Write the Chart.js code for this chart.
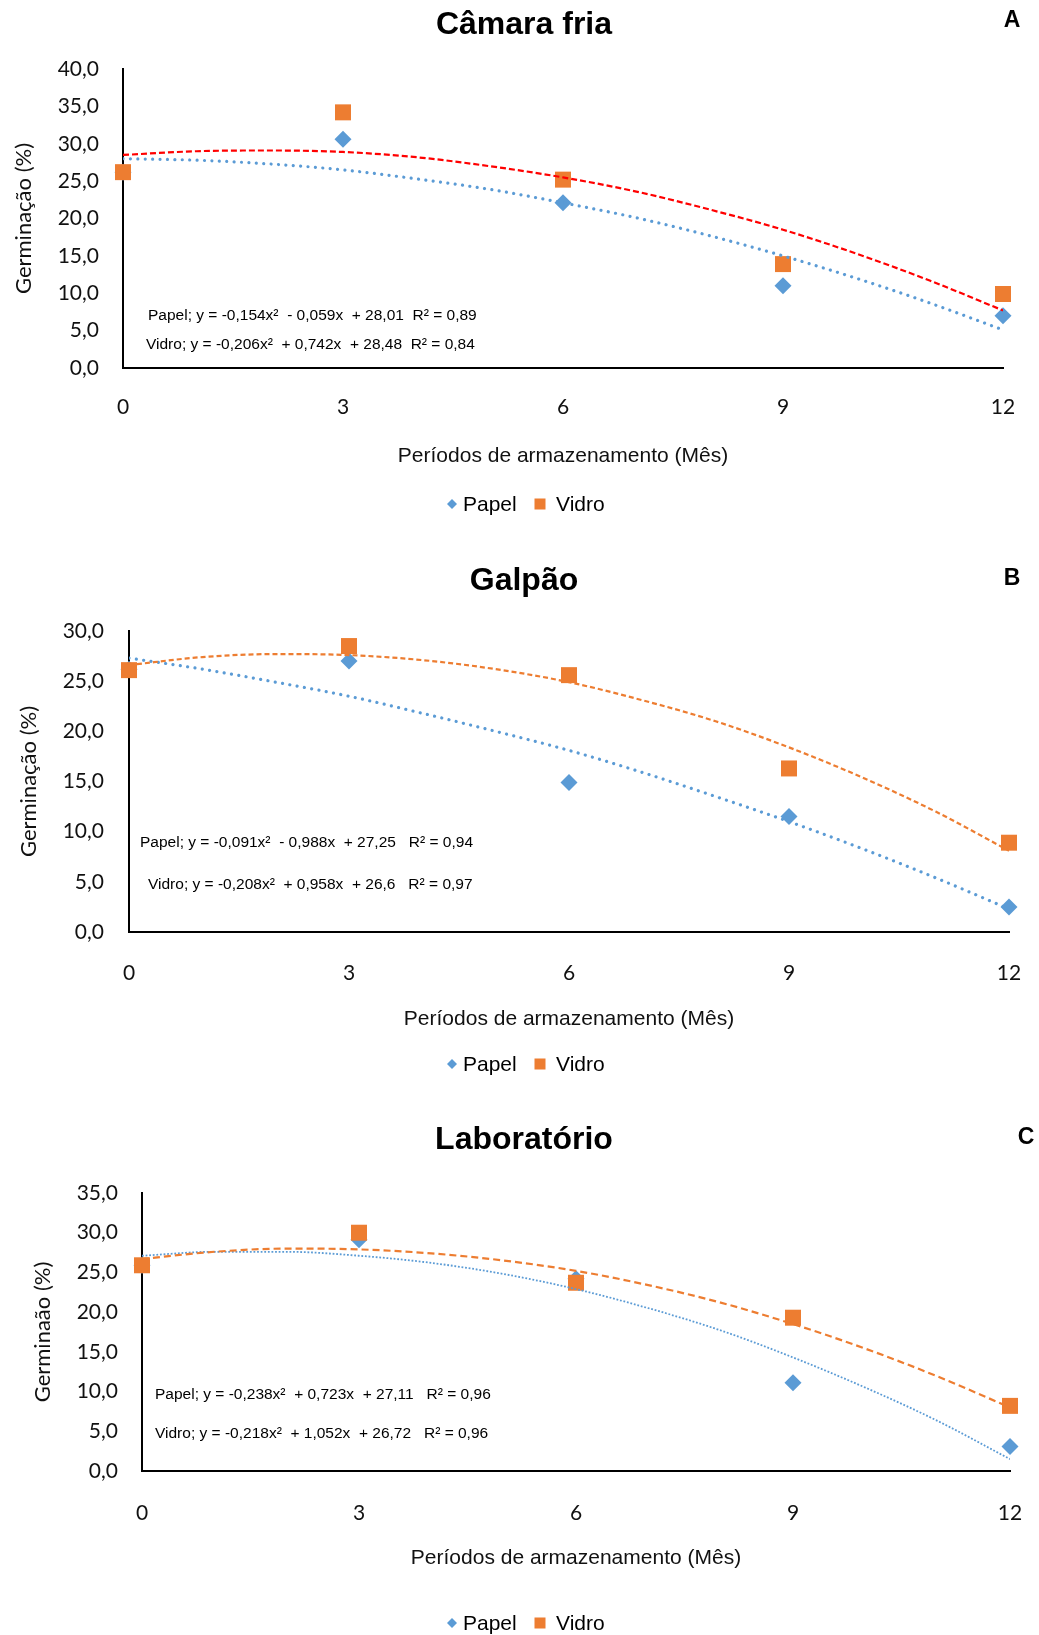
<!DOCTYPE html>
<html>
<head>
<meta charset="utf-8">
<script src="https://cdn.jsdelivr.net/npm/chart.js@4.4.0/dist/chart.umd.min.js"></script>
<style>
  html, body { margin: 0; padding: 0; background: #fff; }
  #wrap { position: relative; width: 1039px; height: 1635px; }
  .box { position: absolute; left: 0; width: 1039px; }
</style>
</head>
<body>
<div id="wrap">
  <div class="box" style="top:0px;height:540px"><canvas id="chartA" width="1039" height="540"></canvas></div>
  <div class="box" style="top:540px;height:555px"><canvas id="chartB" width="1039" height="555"></canvas></div>
  <div class="box" style="top:1095px;height:540px"><canvas id="chartC" width="1039" height="540"></canvas></div>
</div>
<script>
// Meses avaliados e eixo x
const months = [0, 3, 6, 9, 12];
const trendMonths = [0, 1, 2, 3, 4, 5, 6, 7, 8, 9, 10, 11, 12];

// Câmara fria
const camaraPapel = [26.2, 30.6, 22.1, 11.0, 7.0];
const camaraVidro = [26.2, 34.2, 25.2, 13.9, 9.9];
const camaraPapelTrend = [28.0, 27.8, 27.3, 26.5, 25.3, 23.9, 22.1, 20.1, 17.7, 15.0, 12.0, 8.7, 5.1];
const camaraVidroTrend = [28.5, 29.0, 29.1, 28.9, 28.2, 27.0, 25.5, 23.6, 21.2, 18.5, 15.3, 11.7, 7.7];
const camaraEq = ['Papel; y = -0,154x²  - 0,059x  + 28,01  R² = 0,89',
                  'Vidro; y = -0,206x²  + 0,742x  + 28,48  R² = 0,84'];

// Galpão
const galpaoPapel = [26.2, 27.0, 14.9, 11.5, 2.5];
const galpaoVidro = [26.1, 28.5, 25.6, 16.3, 8.9];
const galpaoPapelTrend = [27.3, 26.2, 24.9, 23.5, 21.8, 20.0, 18.1, 15.9, 13.5, 11.0, 8.3, 5.4, 2.3];
const galpaoVidroTrend = [26.6, 27.4, 27.7, 27.6, 27.1, 26.2, 24.9, 23.1, 21.0, 18.4, 15.4, 12.0, 8.1];
const galpaoEq = ['Papel; y = -0,091x²  - 0,988x  + 27,25   R² = 0,94',
                  'Vidro; y = -0,208x²  + 0,958x  + 26,6   R² = 0,97'];

// Laboratório
const labPapel = [25.9, 29.1, 24.2, 11.1, 3.1];
const labVidro = [25.9, 30.0, 23.7, 19.3, 8.2];
const labPapelTrend = [27.1, 27.6, 27.6, 27.1, 26.2, 24.8, 22.9, 20.5, 17.7, 14.3, 10.5, 6.3, 1.5];
const labVidroTrend = [26.7, 27.6, 28.0, 27.9, 27.4, 26.5, 25.2, 23.4, 21.2, 18.5, 15.4, 11.9, 8.0];
const labEq = ['Papel; y = -0,238x²  + 0,723x  + 27,11   R² = 0,96',
               'Vidro; y = -0,218x²  + 1,052x  + 26,72   R² = 0,96'];

const BLUE = '#5B9BD5';
const ORANGE = '#ED7D31';
const RED = '#FF0000';
const ARIAL = '"Liberation Sans", Arial, sans-serif';
const TICKFONT = 'Lato, "Noto Sans", sans-serif';

function pts(xs, ys) {
    return xs.map((x, i) => ({ x: x, y: ys[i] }));
}

const panels = [
    {
        id: 'chartA', h: 540, title: 'Câmara fria', letter: 'A', yMax: 40, yTitle: 'Germinação (%)',
        papel: camaraPapel, vidro: camaraVidro, papelTrend: camaraPapelTrend, vidroTrend: camaraVidroTrend,
        eq: camaraEq, eqPos: [[148, 316], [146, 345]],
        vidroTrendColor: RED, vidroDash: [6, 3], papelThin: false,
        left: 123, right: 1003, top: 69, bottom: 368, tickGap: 39, titleGap: 88,
        yTickRight: 99, yTitleX: 23, titleY: 25, letterX: 1012, letterY: 21, legendY: 504
    },
    {
        id: 'chartB', h: 555, title: 'Galpão', letter: 'B', yMax: 30, yTitle: 'Germinação (%)',
        papel: galpaoPapel, vidro: galpaoVidro, papelTrend: galpaoPapelTrend, vidroTrend: galpaoVidroTrend,
        eq: galpaoEq, eqPos: [[140, 303], [148, 345]],
        vidroTrendColor: ORANGE, vidroDash: [5, 3], papelThin: false,
        left: 129, right: 1009, top: 91, bottom: 392, tickGap: 41, titleGap: 87,
        yTickRight: 104, yTitleX: 28, titleY: 41, letterX: 1012, letterY: 39, legendY: 524
    },
    {
        id: 'chartC', h: 540, title: 'Laboratório', letter: 'C', yMax: 35, yTitle: 'Germinaão (%)',
        papel: labPapel, vidro: labVidro, papelTrend: labPapelTrend, vidroTrend: labVidroTrend,
        eq: labEq, eqPos: [[155, 300], [155, 339]],
        vidroTrendColor: ORANGE, vidroDash: [7, 4], papelThin: true,
        left: 142, right: 1010, top: 98, bottom: 376, tickGap: 42, titleGap: 87,
        yTickRight: 118, yTitleX: 42, titleY: 45, letterX: 1026, letterY: 43, legendY: 528
    }
];

// titulo, letra, equacoes e legenda
function makeDecor(p) {
    return {
        id: 'decor',
        afterDraw(chart) {
            const ctx = chart.ctx;
            ctx.save();
            ctx.fillStyle = '#000';
            ctx.textBaseline = 'middle';
            ctx.textAlign = 'center';
            ctx.font = 'bold 32px ' + ARIAL;
            ctx.fillText(p.title, 524, p.titleY);
            ctx.font = 'bold 23px ' + ARIAL;
            ctx.fillText(p.letter, p.letterX, p.letterY);

            ctx.textAlign = 'left';
            ctx.font = '15.5px ' + ARIAL;
            p.eq.forEach((t, i) => ctx.fillText(t, p.eqPos[i][0], p.eqPos[i][1]));

            // legenda
            const y = p.legendY;
            ctx.fillStyle = BLUE;
            ctx.beginPath();
            ctx.moveTo(452 - 5, y);
            ctx.lineTo(452, y - 5);
            ctx.lineTo(452 + 5, y);
            ctx.lineTo(452, y + 5);
            ctx.closePath();
            ctx.fill();
            ctx.fillStyle = ORANGE;
            ctx.fillRect(540 - 5.5, y - 5.5, 11, 11);
            ctx.fillStyle = '#000';
            ctx.font = '21px ' + ARIAL;
            ctx.fillText('Papel', 463, y + 1);
            ctx.fillText('Vidro', 556, y + 1);
            ctx.restore();
        }
    };
}

panels.forEach(p => {
    const xAxisH = p.titleGap + 12.6;
    const ctx = document.getElementById(p.id).getContext('2d');
    new Chart(ctx, {
        type: 'scatter',
        data: {
            datasets: [
                {
                    label: 'Vidro tendência',
                    type: 'line',
                    data: pts(trendMonths, p.vidroTrend),
                    borderColor: p.vidroTrendColor,
                    borderWidth: 2.2,
                    borderDash: p.vidroDash,
                    pointRadius: 0,
                    cubicInterpolationMode: 'monotone',
                    fill: false,
                    order: 0
                },
                {
                    label: 'Papel tendência',
                    type: 'line',
                    data: pts(trendMonths, p.papelTrend),
                    borderColor: BLUE,
                    borderWidth: p.papelThin ? 1.8 : 3.2,
                    borderDash: p.papelThin ? [1.8, 1.8] : [0.01, 7.4],
                    borderCapStyle: p.papelThin ? 'butt' : 'round',
                    pointRadius: 0,
                    cubicInterpolationMode: 'monotone',
                    fill: false,
                    order: 1
                },
                {
                    label: 'Vidro',
                    data: pts(months, p.vidro),
                    pointStyle: 'rect',
                    pointRadius: 11.3,
                    pointHoverRadius: 11.3,
                    backgroundColor: ORANGE,
                    borderColor: ORANGE,
                    borderWidth: 0,
                    clip: false,
                    order: 2
                },
                {
                    label: 'Papel',
                    data: pts(months, p.papel),
                    pointStyle: 'rectRot',
                    pointRadius: 8.5,
                    pointHoverRadius: 8.5,
                    backgroundColor: BLUE,
                    borderColor: BLUE,
                    borderWidth: 0,
                    clip: false,
                    order: 3
                }
            ]
        },
        options: {
            responsive: false,
            animation: false,
            events: [],
            layout: {
                autoPadding: false,
                padding: { top: p.top, left: 0, right: 1039 - p.right, bottom: p.h - p.bottom - xAxisH }
            },
            plugins: {
                legend: { display: false },
                title: { display: false },
                tooltip: { enabled: false }
            },
            scales: {
                x: {
                    type: 'linear',
                    min: 0,
                    max: 12,
                    // tickLength (sem desenhar a grade) afasta os rotulos do eixo
                    grid: { display: false, drawTicks: true, tickLength: p.tickGap - 12.6 },
                    border: { display: true, color: '#000', width: 2 },
                    ticks: {
                        stepSize: 3,
                        padding: 0,
                        color: '#111',
                        font: { family: TICKFONT, size: 21, lineHeight: 1.2 }
                    },
                    title: {
                        display: true,
                        text: 'Períodos de armazenamento (Mês)',
                        color: '#111',
                        padding: { top: 0, bottom: 0 },
                        font: { family: ARIAL, size: 21, lineHeight: 1.2 }
                    },
                    afterFit: scale => { scale.height = xAxisH; }
                },
                y: {
                    min: 0,
                    max: p.yMax,
                    grid: { display: false, drawTicks: false },
                    border: { display: true, color: '#000', width: 2 },
                    ticks: {
                        stepSize: 5,
                        padding: p.left - p.yTickRight,
                        color: '#111',
                        font: { family: TICKFONT, size: 21, lineHeight: 1.2 },
                        callback: v => v.toFixed(1).replace('.', ',')
                    },
                    title: {
                        display: true,
                        text: p.yTitle,
                        color: '#111',
                        padding: { top: p.yTitleX - 12.6, bottom: 0 },
                        font: { family: TICKFONT, size: 22, lineHeight: 1.2 }
                    },
                    afterFit: scale => { scale.width = p.left; }
                }
            }
        },
        plugins: [makeDecor(p)]
    });
});
</script>
</body>
</html>
